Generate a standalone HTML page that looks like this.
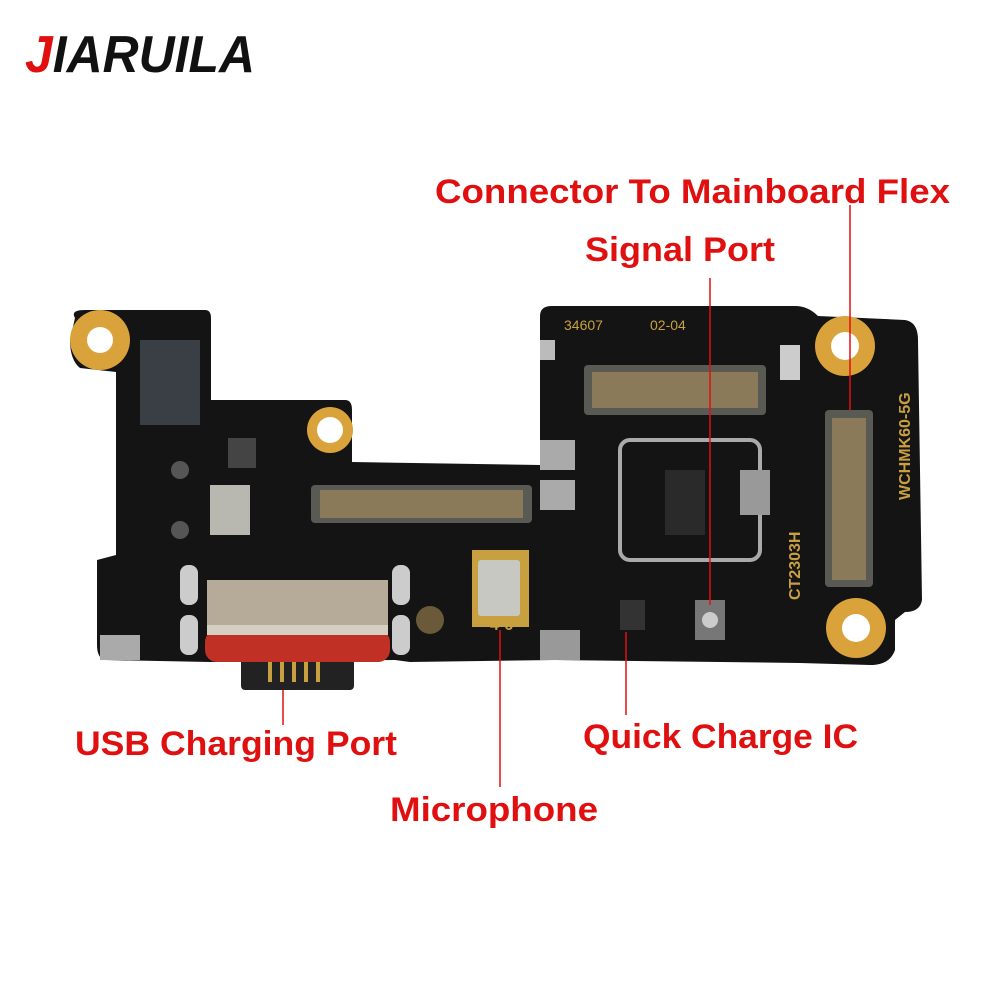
<!DOCTYPE html>
<html><head><meta charset="utf-8"><style>html,body{margin:0;padding:0;background:#fff}svg{display:block}</style></head>
<body>
<svg width="1000" height="1000" viewBox="0 0 1000 1000" xmlns="http://www.w3.org/2000/svg" font-family="Liberation Sans, sans-serif">
<rect width="1000" height="1000" fill="#fff"/>
<text x="25" y="72" font-size="52" font-weight="bold" font-style="italic" textLength="230" lengthAdjust="spacingAndGlyphs"><tspan fill="#e01010">J</tspan><tspan fill="#111">IARUILA</tspan></text>
<path d="M75,318 Q70,310 85,310 L205,310 Q211,310 211,318 L211,400 L345,400 Q352,400 352,410 L352,462 L540,465 L540,316 Q540,306 552,306 L795,306 Q808,306 818,316 L905,320 Q918,322 918,340 L922,600 Q920,612 905,612 L895,620 L895,650 Q890,665 870,665 L800,663 L555,660 L410,662 L395,660 L210,662 L105,660 Q97,658 97,645 L97,560 L116,555 L116,372 L80,368 Q70,360 70,340 Z" fill="#141414"/>
<circle cx="100" cy="340" r="30" fill="#d9a23a"/><circle cx="100" cy="340" r="13" fill="#fff"/>
<circle cx="330" cy="430" r="23" fill="#d9a23a"/><circle cx="330" cy="430" r="13" fill="#fff"/>
<circle cx="845" cy="346" r="30" fill="#d9a23a"/><circle cx="845" cy="346" r="14" fill="#fff"/>
<circle cx="856" cy="628" r="30" fill="#d9a23a"/><circle cx="856" cy="628" r="14" fill="#fff"/>
<rect x="140" y="340" width="60" height="85" fill="#3a3f45"/>
<rect x="311" y="485" width="221" height="38" rx="4" fill="#5a5a55"/>
<rect x="320" y="490" width="203" height="28" fill="#8a7a5a"/>
<rect x="584" y="365" width="182" height="50" rx="4" fill="#5a5a55"/>
<rect x="592" y="372" width="166" height="36" fill="#8a7a5a"/>
<rect x="825" y="410" width="48" height="177" rx="4" fill="#5a5a55"/>
<rect x="832" y="418" width="34" height="162" fill="#8a7a5a"/>
<rect x="228" y="438" width="28" height="30" fill="#444"/>
<rect x="210" y="485" width="40" height="50" fill="#b8b8b0"/>
<rect x="620" y="440" width="140" height="120" fill="none" stroke="#aaa" stroke-width="4" rx="10"/>
<rect x="665" y="470" width="40" height="65" fill="#2a2a2a"/>
<rect x="740" y="470" width="30" height="45" fill="#999"/>
<rect x="540" y="440" width="35" height="30" fill="#aaa"/>
<rect x="540" y="480" width="35" height="30" fill="#aaa"/>
<rect x="540" y="340" width="15" height="20" fill="#bbb"/>
<rect x="780" y="345" width="20" height="35" fill="#ccc"/>
<circle cx="180" cy="470" r="9" fill="#555"/><circle cx="180" cy="530" r="9" fill="#555"/>
<circle cx="430" cy="620" r="14" fill="#6a5a3a"/>
<rect x="695" y="600" width="30" height="40" fill="#777"/><circle cx="710" cy="620" r="8" fill="#ccc"/>
<rect x="620" y="600" width="25" height="30" fill="#333"/>
<rect x="540" y="630" width="40" height="30" fill="#999"/>
<rect x="100" y="635" width="40" height="25" fill="#aaa"/>
<rect x="180" y="565" width="18" height="40" rx="8" fill="#ccc"/><rect x="180" y="615" width="18" height="40" rx="8" fill="#ccc"/>
<rect x="392" y="565" width="18" height="40" rx="8" fill="#ccc"/><rect x="392" y="615" width="18" height="40" rx="8" fill="#ccc"/>
<rect x="241" y="655" width="113" height="35" rx="4" fill="#222"/>
<g stroke="#c9a040" stroke-width="4"><line x1="270" y1="660" x2="270" y2="682"/><line x1="282" y1="660" x2="282" y2="682"/><line x1="294" y1="660" x2="294" y2="682"/><line x1="306" y1="660" x2="306" y2="682"/><line x1="318" y1="660" x2="318" y2="682"/></g>
<rect x="205" y="630" width="185" height="32" rx="12" fill="#c03024"/>
<rect x="207" y="580" width="181" height="55" fill="#b5ab98"/>
<rect x="207" y="625" width="181" height="10" fill="#d5cfc2"/>
<rect x="472" y="550" width="57" height="77" fill="#c9a040"/>
<rect x="478" y="560" width="42" height="56" rx="3" fill="#c8c8c2"/>
<text x="490" y="630" font-size="16" fill="#c9a040" font-weight="bold">4-6</text>
<text x="564" y="330" font-size="14" fill="#c9a040">34607</text>
<text x="650" y="330" font-size="14" fill="#c9a040">02-04</text>
<text transform="translate(800,600) rotate(-90)" font-size="16" fill="#c9a040" font-weight="bold">CT2303H</text>
<text transform="translate(910,500) rotate(-90)" font-size="16" fill="#c9a040" font-weight="bold">WCHMK60-5G</text>
<g stroke="#e01010" stroke-width="1.5">
<line x1="283" y1="690" x2="283" y2="725"/>
<line x1="500" y1="630" x2="500" y2="787"/>
<line x1="626" y1="632" x2="626" y2="715"/>
<line x1="710" y1="278" x2="710" y2="605"/>
<line x1="850" y1="205" x2="850" y2="410"/>
</g>
<g fill="#e01010" font-weight="bold" font-size="34">
<text x="435" y="203" textLength="515" lengthAdjust="spacingAndGlyphs">Connector To Mainboard Flex</text>
<text x="585" y="261" textLength="190" lengthAdjust="spacingAndGlyphs">Signal Port</text>
<text x="75" y="755" textLength="322" lengthAdjust="spacingAndGlyphs">USB Charging Port</text>
<text x="583" y="748" textLength="275" lengthAdjust="spacingAndGlyphs">Quick Charge IC</text>
<text x="390" y="821" textLength="208" lengthAdjust="spacingAndGlyphs">Microphone</text>
</g>
</svg>
</body></html>
